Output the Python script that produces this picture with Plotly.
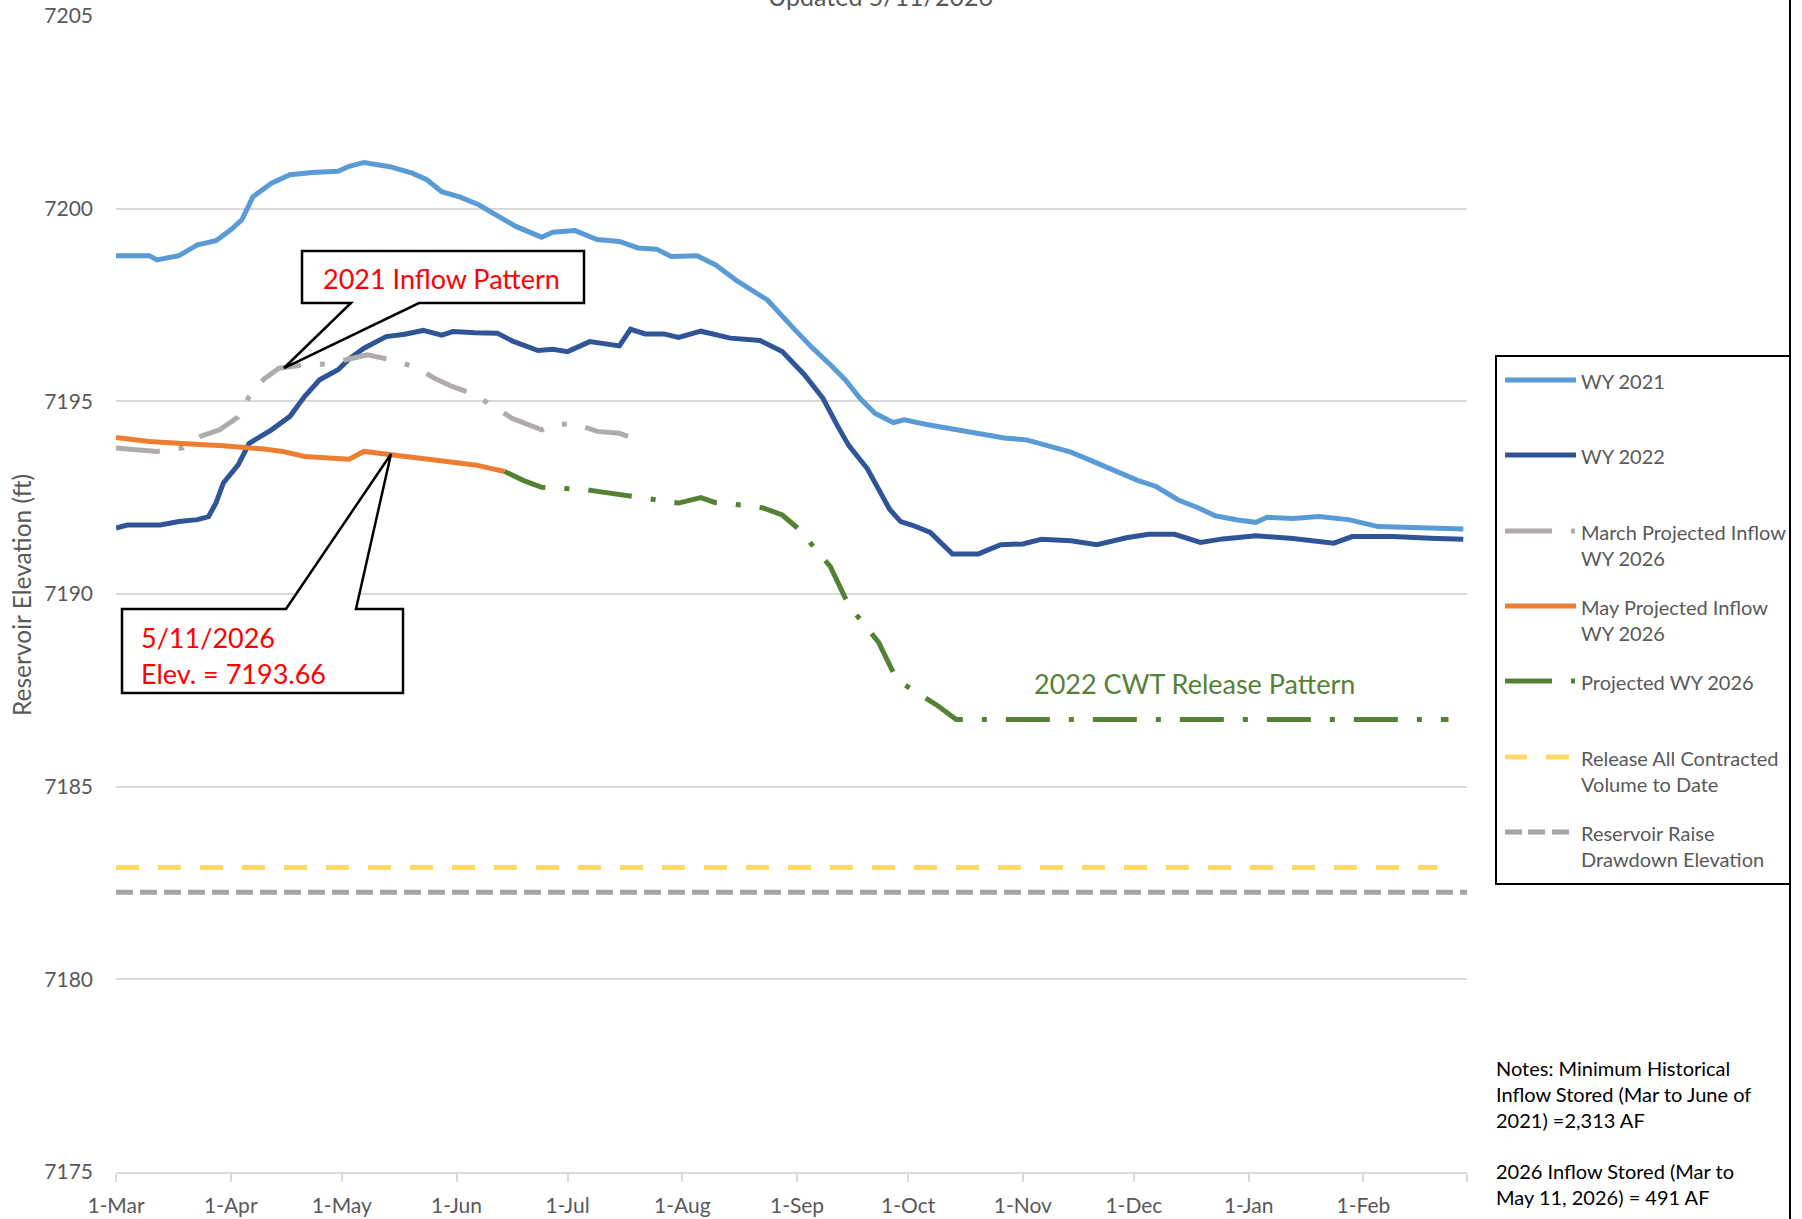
import plotly.graph_objects as go

# ---- data ----
wy2021_dates = ["2026-03-01", "2026-03-10", "2026-03-12", "2026-03-18", "2026-03-23", "2026-03-28",
                "2026-04-01", "2026-04-04", "2026-04-07", "2026-04-12", "2026-04-17", "2026-04-23",
                "2026-04-30", "2026-05-03", "2026-05-07", "2026-05-14", "2026-05-20", "2026-05-24",
                "2026-05-28", "2026-06-02", "2026-06-07", "2026-06-11", "2026-06-17", "2026-06-24",
                "2026-06-27", "2026-07-03", "2026-07-09", "2026-07-15", "2026-07-20", "2026-07-25",
                "2026-07-29", "2026-08-05", "2026-08-10", "2026-08-16", "2026-08-24", "2026-08-31",
                "2026-09-05", "2026-09-10", "2026-09-14", "2026-09-18", "2026-09-22", "2026-09-27",
                "2026-09-30", "2026-10-06", "2026-10-13", "2026-10-20", "2026-10-27", "2026-11-02",
                "2026-11-08", "2026-11-14", "2026-11-19", "2026-11-26", "2026-12-02", "2026-12-07",
                "2026-12-13", "2026-12-18", "2026-12-23", "2026-12-29", "2027-01-03", "2027-01-06",
                "2027-01-13", "2027-01-20", "2027-01-28", "2027-02-05", "2027-02-13", "2027-02-20",
                "2027-02-28"]
wy2021_elev = [7198.78, 7198.78, 7198.67, 7198.78, 7199.06, 7199.17,
               7199.45, 7199.71, 7200.31, 7200.66, 7200.88, 7200.94,
               7200.97, 7201.10, 7201.20, 7201.09, 7200.92, 7200.75,
               7200.44, 7200.30, 7200.10, 7199.88, 7199.54, 7199.26,
               7199.39, 7199.43, 7199.20, 7199.15, 7198.98, 7198.95,
               7198.76, 7198.78, 7198.54, 7198.11, 7197.63, 7196.90,
               7196.40, 7195.95, 7195.56, 7195.08, 7194.69, 7194.45,
               7194.52, 7194.40, 7194.28, 7194.18, 7194.05, 7194.00,
               7193.85, 7193.68, 7193.48, 7193.20, 7192.95, 7192.79,
               7192.44, 7192.25, 7192.03, 7191.92, 7191.86, 7191.99,
               7191.96, 7192.01, 7191.93, 7191.75, 7191.72, 7191.72,
               7191.69]

wy2022_dates = ["2026-03-01", "2026-03-04", "2026-03-13", "2026-03-18", "2026-03-23", "2026-03-26",
                "2026-03-28", "2026-03-30", "2026-04-03", "2026-04-06", "2026-04-12", "2026-04-17",
                "2026-04-21", "2026-04-25", "2026-04-30", "2026-05-03", "2026-05-07", "2026-05-13",
                "2026-05-18", "2026-05-23", "2026-05-28", "2026-05-31", "2026-06-06", "2026-06-12",
                "2026-06-16", "2026-06-23", "2026-06-27", "2026-07-01", "2026-07-07", "2026-07-15",
                "2026-07-18", "2026-07-22", "2026-07-27", "2026-07-31", "2026-08-06", "2026-08-14",
                "2026-08-22", "2026-08-28", "2026-09-03", "2026-09-08", "2026-09-12", "2026-09-15",
                "2026-09-20", "2026-09-23", "2026-09-26", "2026-09-29", "2026-10-02", "2026-10-07",
                "2026-10-13", "2026-10-20", "2026-10-26", "2026-11-01", "2026-11-06", "2026-11-14",
                "2026-11-21", "2026-11-29", "2026-12-05", "2026-12-12", "2026-12-19", "2026-12-25",
                "2027-01-03", "2027-01-13", "2027-01-24", "2027-01-29", "2027-02-09", "2027-02-19",
                "2027-02-28"]
wy2022_elev = [7191.71, 7191.79, 7191.79, 7191.88, 7191.93, 7192.01,
               7192.36, 7192.88, 7193.35, 7193.91, 7194.26, 7194.61,
               7195.13, 7195.56, 7195.82, 7196.10, 7196.38, 7196.68,
               7196.74, 7196.84, 7196.72, 7196.81, 7196.78, 7196.77,
               7196.57, 7196.32, 7196.35, 7196.29, 7196.55, 7196.44,
               7196.87, 7196.75, 7196.75, 7196.66, 7196.82, 7196.64,
               7196.58, 7196.29, 7195.69, 7195.08, 7194.35, 7193.85,
               7193.25, 7192.74, 7192.20, 7191.88, 7191.79, 7191.60,
               7191.04, 7191.04, 7191.28, 7191.30, 7191.42, 7191.38,
               7191.28, 7191.46, 7191.55, 7191.55, 7191.34, 7191.43,
               7191.51, 7191.44, 7191.32, 7191.49, 7191.49, 7191.45,
               7191.42]

march_dates = ["2026-03-01", "2026-03-12", "2026-03-19", "2026-03-24", "2026-03-29", "2026-04-03",
               "2026-04-06", "2026-04-10", "2026-04-14", "2026-04-21", "2026-04-27", "2026-05-04",
               "2026-05-08", "2026-05-15", "2026-05-21", "2026-05-26", "2026-05-31", "2026-06-06",
               "2026-06-11", "2026-06-16", "2026-06-24", "2026-06-27", "2026-07-03", "2026-07-09",
               "2026-07-15", "2026-07-20"]
march_elev = [7193.79, 7193.70, 7193.79, 7194.10, 7194.26, 7194.59,
              7195.13, 7195.58, 7195.86, 7195.95, 7195.97, 7196.12,
              7196.21, 7196.06, 7195.88, 7195.60, 7195.38, 7195.17,
              7194.87, 7194.56, 7194.26, 7194.39, 7194.42, 7194.22,
              7194.17, 7194.00]

may_dates = ["2026-03-01", "2026-03-10", "2026-03-20", "2026-03-30", "2026-04-10", "2026-04-15",
             "2026-04-21", "2026-04-26", "2026-05-03", "2026-05-07", "2026-05-11", "2026-05-14",
             "2026-05-26", "2026-06-06", "2026-06-14"]
may_elev = [7194.06, 7193.96, 7193.90, 7193.85, 7193.76, 7193.70,
            7193.57, 7193.53, 7193.50, 7193.70, 7193.66, 7193.61,
            7193.48, 7193.35, 7193.18]

proj_dates = ["2026-06-14", "2026-06-19", "2026-06-24", "2026-07-01", "2026-07-06", "2026-07-10",
              "2026-07-15", "2026-07-17", "2026-07-24", "2026-07-31", "2026-08-06", "2026-08-10",
              "2026-08-17", "2026-08-23", "2026-08-28", "2026-09-02", "2026-09-06", "2026-09-10",
              "2026-09-15", "2026-09-19", "2026-09-23", "2026-09-28", "2026-10-03", "2026-10-09",
              "2026-10-14", "2027-02-24"]
proj_elev = [7193.18, 7192.95, 7192.77, 7192.75, 7192.71, 7192.65,
             7192.58, 7192.55, 7192.44, 7192.36, 7192.50, 7192.37,
             7192.31, 7192.23, 7192.05, 7191.64, 7191.16, 7190.71,
             7189.70, 7189.20, 7188.75, 7187.77, 7187.47, 7187.10,
             7186.74, 7186.74]

release_dates = ["2026-03-01", "2027-02-21"]
release_elev = [7182.90, 7182.90]

drawdown_dates = ["2026-03-01", "2027-03-01"]
drawdown_elev = [7182.26, 7182.26]

month_ticks = ["2026-03-01", "2026-04-01", "2026-05-01", "2026-06-01", "2026-07-01", "2026-08-01",
               "2026-09-01", "2026-10-01", "2026-11-01", "2026-12-01", "2027-01-01", "2027-02-01",
               "2027-03-01"]
month_labels = ["1-Mar", "1-Apr", "1-May", "1-Jun", "1-Jul", "1-Aug", "1-Sep", "1-Oct", "1-Nov",
                "1-Dec", "1-Jan", "1-Feb", ""]

# ---- layout geometry (pixels) ----
W, H = 1802, 1219
L, R, T, B = 116, 1467, 16, 1172
FONT = "Lato, 'Open Sans', sans-serif"
GREY_TXT = "#595959"


def px(x):
    return (x - L) / (R - L)


def py(y):
    return (B - y) / (B - T)


LONG_DASH_DOT = "44px,19px,5px,19px"

fig = go.Figure()
fig.add_trace(go.Scatter(x=wy2021_dates, y=wy2021_elev, mode="lines",
                         line=dict(color="#5B9BD5", width=5)))
fig.add_trace(go.Scatter(x=wy2022_dates, y=wy2022_elev, mode="lines",
                         line=dict(color="#2F5597", width=5)))
fig.add_trace(go.Scatter(x=march_dates, y=march_elev, mode="lines",
                         line=dict(color="#AFABAB", width=5, dash=LONG_DASH_DOT)))
fig.add_trace(go.Scatter(x=may_dates, y=may_elev, mode="lines",
                         line=dict(color="#ED7D31", width=5)))
fig.add_trace(go.Scatter(x=proj_dates, y=proj_elev, mode="lines",
                         line=dict(color="#548235", width=5, dash=LONG_DASH_DOT)))
fig.add_trace(go.Scatter(x=release_dates, y=release_elev, mode="lines",
                         line=dict(color="#FFD966", width=5, dash="23px,19px")))
fig.add_trace(go.Scatter(x=drawdown_dates, y=drawdown_elev, mode="lines",
                         line=dict(color="#A5A5A5", width=5, dash="17px,7px")))

shapes = []
annotations = []

# callout: 2021 Inflow Pattern
c1 = [(302, 251), (584, 251), (584, 303), (419, 303), (284, 368), (351, 303), (302, 303)]
shapes.append(dict(type="path", xref="paper", yref="paper", layer="above",
                   path="M " + " L ".join(f"{px(a):.5f},{py(b):.5f}" for a, b in c1) + " Z",
                   fillcolor="white", line=dict(color="black", width=2.5)))
annotations.append(dict(x=px(441), y=py(278), xref="paper", yref="paper", text="2021 Inflow Pattern",
                        showarrow=False, font=dict(family=FONT, size=27, color="#FF0000"),
                        xanchor="center", yanchor="middle"))

# callout: 5/11/2026
c2 = [(122, 609), (286, 609), (391, 454), (356, 609), (403, 609), (403, 693), (122, 693)]
shapes.append(dict(type="path", xref="paper", yref="paper", layer="above",
                   path="M " + " L ".join(f"{px(a):.5f},{py(b):.5f}" for a, b in c2) + " Z",
                   fillcolor="white", line=dict(color="black", width=2.5)))
for txt, yy in [("5/11/2026", 638), ("Elev. = 7193.66", 674)]:
    annotations.append(dict(x=px(139), y=py(yy), xref="paper", yref="paper", text=txt,
                            showarrow=False, font=dict(family=FONT, size=27, color="#FF0000"),
                            xanchor="left", yanchor="middle"))

annotations.append(dict(x=px(1194), y=py(683), xref="paper", yref="paper",
                        text="2022 CWT Release Pattern", showarrow=False,
                        font=dict(family=FONT, size=27, color="#548235"),
                        xanchor="center", yanchor="middle"))

# title, cut by the top edge as in the source image
annotations.append(dict(x=px(880), y=py(-4), xref="paper", yref="paper", text="Updated 5/11/2026",
                        showarrow=False, font=dict(family=FONT, size=25, color=GREY_TXT),
                        xanchor="center", yanchor="middle"))

# y axis title
annotations.append(dict(x=px(21), y=py(595), xref="paper", yref="paper",
                        text="Reservoir Elevation (ft)", textangle=-90, showarrow=False,
                        font=dict(family=FONT, size=24.5, color=GREY_TXT),
                        xanchor="center", yanchor="middle"))

# chart area right border
shapes.append(dict(type="line", xref="paper", yref="paper", x0=px(1790), x1=px(1790),
                   y0=py(-5), y1=py(H + 5), line=dict(color="black", width=2)))

# manual legend
shapes.append(dict(type="rect", xref="paper", yref="paper", x0=px(1496), x1=px(1790),
                   y0=py(356), y1=py(884), line=dict(color="black", width=2), fillcolor="white",
                   layer="above"))
legend_rows = [
    ("WY 2021", 380, "#5B9BD5", [(1505, 1576)]),
    ("WY 2022", 455, "#2F5597", [(1505, 1576)]),
    ("March Projected Inflow<br>WY 2026", 531, "#AFABAB", [(1505, 1552), (1571, 1575)]),
    ("May Projected Inflow<br>WY 2026", 606, "#ED7D31", [(1505, 1576)]),
    ("Projected WY 2026", 681, "#548235", [(1505, 1552), (1571, 1575)]),
    ("Release All Contracted<br>Volume to Date", 757, "#FFD966", [(1505, 1527), (1546, 1569)]),
    ("Reservoir Raise<br>Drawdown Elevation", 832, "#A5A5A5",
     [(1505, 1522), (1528, 1545), (1552, 1569)]),
]
for label, yy, col, segs in legend_rows:
    for a, b in segs:
        shapes.append(dict(type="line", xref="paper", yref="paper", x0=px(a), x1=px(b),
                           y0=py(yy), y1=py(yy), line=dict(color=col, width=5), layer="above"))
    annotations.append(dict(x=px(1579), y=py(yy - 13), xref="paper", yref="paper", text=label,
                            showarrow=False, align="left", xanchor="left", yanchor="top",
                            font=dict(family=FONT, size=20, color=GREY_TXT)))

# notes
for txt, yy in [("Notes: Minimum Historical<br>Inflow Stored (Mar to June of<br>2021) =2,313 AF", 1054),
                ("2026 Inflow Stored (Mar to<br>May 11, 2026) = 491 AF", 1157)]:
    annotations.append(dict(x=px(1494), y=py(yy), xref="paper", yref="paper", text=txt,
                            showarrow=False, align="left", xanchor="left", yanchor="top",
                            font=dict(family=FONT, size=20, color="black")))

fig.update_layout(
    width=W, height=H,
    margin=dict(l=L, r=W - R, t=T, b=H - B, autoexpand=False),
    paper_bgcolor="white", plot_bgcolor="white",
    showlegend=False,
    font=dict(family=FONT, color=GREY_TXT),
    shapes=shapes, annotations=annotations,
)
fig.update_xaxes(type="date", range=["2026-03-01", "2027-03-01"], automargin=False,
                 tickvals=month_ticks, ticktext=month_labels,
                 showgrid=False, showline=True, linecolor="#D9D9D9", linewidth=1.5,
                 ticks="outside", ticklen=8, tickcolor="#D9D9D9", tickwidth=1.5,
                 ticklabelstandoff=6,
                 tickfont=dict(family=FONT, size=21, color=GREY_TXT), zeroline=False)
fig.update_yaxes(range=[7175, 7205], dtick=5, tick0=7175, automargin=False,
                 showgrid=True, gridcolor="#D9D9D9", gridwidth=1.5,
                 showline=False, zeroline=False, ticks="", ticklabelstandoff=22,
                 tickfont=dict(family=FONT, size=21, color=GREY_TXT))

fig.write_html("out.html", config={"displayModeBar": False},
               post_script="document.body.style.margin='0px';")
